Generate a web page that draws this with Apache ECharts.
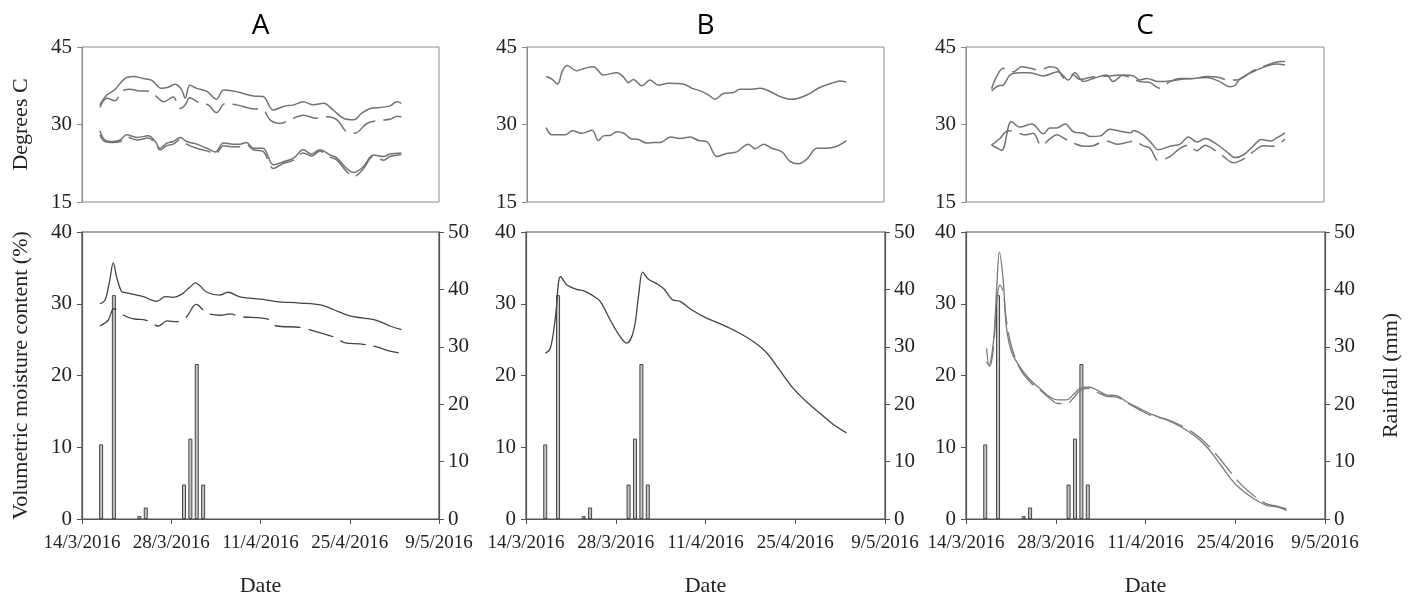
<!DOCTYPE html>
<html>
<head>
<meta charset="utf-8">
<script src="https://cdn.jsdelivr.net/npm/echarts@6/dist/echarts.min.js"></script>
<style>
  html, body { margin: 0; padding: 0; background: #fff; }
  #chart { width: 1418px; height: 601px; }
</style>
</head>
<body>
<div id="chart"></div>
<script>
// x values are days after 14/3/2016
const panelNames = ['A', 'B', 'C']
const dateTicks = ['14/3/2016', '28/3/2016', '11/4/2016', '25/4/2016', '9/5/2016']

// rainfall (mm), same for each site
const rainDay = [3, 5, 9, 10, 16, 17, 18, 19]
const rainMm = [13, 39, 0.5, 2, 6, 14, 27, 6]

// --- site A ---
const tempA_hiSolid = [[2.8,33.8],[3.9,35.7],[5.2,36.8],[6.7,38.9],[8.1,39.3],[9.6,38.9],[10.9,38.6],[12.5,37.0],[13.5,37.2],[14.6,37.8],[15.6,36.8],[16.2,35.1],[16.9,37.6],[18.0,37.0],[19.6,36.4],[21.1,34.9],[22.2,36.7],[23.7,36.5],[25.3,36.0],[26.9,35.5],[28.4,35.4],[30.0,32.8],[31.6,33.5],[33.2,33.8],[34.7,34.4],[36.3,33.8],[37.9,34.1],[39.4,32.8],[41.0,31.2],[42.6,30.9],[43.9,32.2],[45.2,33.1],[46.7,33.3],[48.3,33.6],[49.4,34.4],[50.1,34.1]]
const tempA_hiDash = [[2.8,33.3],[3.9,35.1],[5.2,34.6],[6.2,36.4],[7.5,36.8],[9.1,36.5],[10.7,36.4],[11.7,35.4],[12.8,34.4],[14.3,35.3],[15.4,33.1],[16.2,33.8],[16.9,35.2],[18.5,34.1],[19.8,33.8],[21.1,32.3],[22.4,34.0],[24.3,33.8],[26.4,33.1],[28.4,32.8],[29.5,30.9],[31.1,30.2],[32.6,30.9],[34.7,31.8],[36.8,31.2],[38.4,31.5],[40.0,30.9],[41.5,28.6],[42.8,28.3],[44.7,30.2],[46.7,30.8],[48.3,31.0],[49.4,31.6],[50.1,31.5]]
const tempA_loSolid = [[2.8,28.8],[3.6,27.0],[4.9,26.7],[6.0,27.0],[7.0,28.0],[8.6,27.5],[10.4,27.8],[11.5,26.7],[12.2,25.4],[13.3,26.4],[14.3,26.7],[15.4,27.5],[16.4,26.7],[18.0,26.2],[19.6,25.4],[20.9,24.7],[22.2,26.4],[23.7,26.2],[24.8,26.2],[25.8,26.5],[26.9,25.4],[28.4,25.4],[30.0,22.2],[31.6,22.8],[33.2,23.5],[34.7,25.1],[36.0,24.3],[37.3,25.1],[38.9,24.1],[40.0,23.5],[41.5,21.5],[42.6,20.7],[44.1,21.8],[45.7,24.1],[47.3,23.8],[48.3,24.3],[50.1,24.5]]
const tempA_loDash = [[2.8,28.0],[3.6,26.7],[4.9,26.5],[6.0,26.7],[7.0,27.6],[8.6,27.0],[10.4,27.4],[11.5,26.4],[12.2,25.1],[13.3,25.9],[14.3,26.2],[15.4,27.1],[16.4,26.2],[18.0,25.4],[19.6,24.9],[20.9,24.3],[22.2,25.9],[23.7,25.7],[24.8,25.7],[25.8,26.1],[26.9,25.1],[28.4,24.8],[30.0,21.5],[31.6,22.5],[33.2,23.1],[34.7,24.5],[36.0,23.9],[37.3,24.8],[38.9,23.7],[40.0,23.1],[41.5,20.9],[42.6,19.9],[44.1,21.4],[45.7,23.8],[47.3,23.1],[48.3,23.8],[50.1,24.2]]
const moistA_solid = [[2.8,30.0],[3.6,30.5],[4.3,33.0],[4.9,35.7],[5.5,33.5],[6.2,31.7],[6.6,31.6],[8.1,31.3],[9.6,31.0],[11.7,30.35],[13.1,31.0],[14.3,30.9],[15.6,31.3],[16.9,32.3],[17.8,32.9],[18.5,32.5],[19.6,31.6],[21.6,31.2],[22.9,31.6],[24.8,30.95],[28.4,30.6],[30.5,30.3],[34.2,30.1],[37.6,29.8],[39.4,29.2],[42.0,28.3],[44.1,28.0],[46.2,27.7],[48.3,26.9],[50.1,26.4]]
const moistA_dash = [[2.8,26.9],[4.1,27.7],[5.0,29.3],[6.5,28.4],[8.1,27.9],[10.1,27.7],[12.0,26.9],[13.3,27.6],[14.9,27.5],[16.4,28.2],[17.9,29.9],[19.6,28.7],[21.7,28.4],[23.2,28.6],[24.8,28.2],[29.0,27.9],[30.5,26.9],[34.2,26.7],[37.9,25.8],[39.4,25.4],[41.5,24.5],[43.6,24.4],[46.2,24.0],[48.3,23.4],[50.1,23.1]]

// --- site B ---
const tempB_hi = [[3.0,39.3],[3.9,38.8],[4.8,37.8],[5.5,40.2],[6.3,41.4],[7.8,40.4],[9.1,40.9],[10.4,41.2],[12.0,39.6],[14.1,40.0],[15.2,39.1],[15.9,38.1],[16.7,38.7],[17.2,38.3],[18.0,37.5],[19.3,38.6],[20.6,37.6],[22.2,38.0],[24.6,37.8],[25.9,37.0],[27.2,36.5],[28.5,35.7],[29.5,34.9],[30.8,36.0],[32.4,36.2],[33.4,36.8],[35.0,36.8],[36.6,37.0],[38.1,36.4],[39.7,35.4],[41.3,34.9],[42.3,35.0],[43.9,35.7],[46.0,37.2],[48.1,38.1],[49.1,38.4],[50.1,38.2]]
const tempB_lo = [[3.0,29.4],[3.9,28.0],[5.0,28.0],[6.0,28.0],[7.1,28.8],[8.6,28.3],[10.2,28.9],[11.2,26.9],[12.0,27.8],[13.1,27.9],[14.1,28.6],[15.2,28.3],[16.2,27.3],[17.5,27.1],[18.8,26.4],[19.9,26.5],[20.9,26.5],[22.5,27.6],[24.0,27.3],[25.6,27.6],[26.9,26.9],[28.2,26.7],[29.8,23.8],[31.3,24.4],[32.9,24.7],[34.7,26.2],[35.8,25.3],[37.1,26.2],[38.4,25.4],[40.0,24.7],[41.3,22.8],[42.6,22.4],[43.9,23.3],[45.5,25.4],[47.0,25.4],[48.6,25.8],[50.1,26.9]]
const moistB = [[3.0,23.1],[3.8,23.8],[4.6,28.2],[5.4,33.8],[6.4,32.6],[7.9,32.0],[9.0,31.8],[10.3,31.2],[11.6,30.3],[13.1,27.8],[14.4,25.8],[15.7,24.5],[16.8,26.3],[17.6,31.4],[18.2,34.4],[19.1,33.4],[20.4,32.8],[21.5,32.1],[22.8,30.6],[24.1,30.3],[25.6,29.3],[27.7,28.2],[30.3,27.2],[32.9,26.1],[35.5,24.7],[37.6,23.1],[39.6,20.7],[41.7,18.2],[43.8,16.3],[45.9,14.7],[47.9,13.2],[50.0,12.0]]

// --- site C ---
const tempC_hiSolid = [[4.0,36.5],[5.1,37.5],[5.8,37.6],[6.9,39.6],[8.4,40.0],[10.0,40.0],[12.1,39.4],[14.4,40.2],[16.0,38.6],[17.0,40.0],[18.4,38.3],[19.9,38.9],[22.0,39.6],[23.0,38.3],[24.6,39.6],[26.2,39.4],[27.2,38.6],[28.3,38.9],[30.1,38.3],[31.9,38.4],[33.5,38.7],[35.6,38.9],[37.6,39.1],[39.7,38.3],[41.3,37.3],[42.1,37.6],[42.9,38.9],[44.9,40.2],[47.0,41.3],[48.6,41.7],[49.9,41.5]]
const tempC_hiDash = [[4.0,36.9],[4.8,39.3],[5.8,40.9],[7.4,40.2],[8.7,41.2],[10.0,40.9],[11.6,40.5],[13.1,41.2],[14.2,40.9],[15.5,38.9],[16.8,39.6],[17.8,38.7],[19.4,39.1],[21.0,39.3],[22.5,39.4],[24.1,39.6],[25.7,39.1],[27.2,38.3],[28.8,38.1],[30.3,37.0],[31.9,38.3],[33.5,38.9],[35.6,38.9],[37.6,39.3],[39.7,39.1],[40.8,38.6],[42.3,38.6],[44.9,40.4],[47.6,41.7],[49.1,42.2],[49.9,42.2]]
const tempC_loSolid = [[4.0,26.0],[4.8,25.5],[5.6,25.0],[7.1,30.6],[8.4,29.5],[10.3,30.1],[12.1,28.2],[13.1,29.3],[14.2,29.3],[15.5,30.1],[16.8,28.6],[18.4,28.3],[19.4,27.7],[21.0,27.8],[22.5,29.1],[24.1,28.7],[25.7,28.4],[26.2,28.8],[27.7,28.0],[29.0,26.4],[30.1,25.1],[31.9,25.8],[33.5,26.2],[34.8,27.6],[36.1,26.6],[37.4,27.3],[39.2,26.2],[40.8,24.7],[42.1,23.6],[43.4,24.1],[44.9,25.8],[46.2,27.1],[47.6,26.8],[48.6,27.4],[49.9,28.4]]
const tempC_loDash = [[4.0,26.0],[5.3,27.3],[6.6,28.8],[7.7,28.6],[9.2,28.0],[10.5,28.3],[11.8,25.9],[13.1,27.2],[14.2,28.0],[15.5,27.2],[16.8,26.4],[18.4,25.8],[19.9,25.9],[21.0,26.5],[22.0,26.8],[23.6,26.2],[25.1,26.5],[26.2,26.8],[27.7,25.9],[28.8,25.4],[30.1,23.0],[31.9,23.8],[33.5,25.4],[34.8,26.0],[36.1,24.9],[37.4,26.0],[38.7,25.2],[40.2,23.9],[41.8,22.6],[43.4,23.3],[44.9,24.7],[46.5,25.9],[48.1,25.8],[49.9,27.2]]
const moistC_solid = [[3.2,23.8],[3.6,21.4],[4.3,24.9],[4.8,32.3],[5.2,37.2],[5.8,33.3],[6.3,26.8],[7.1,23.3],[8.4,21.2],[10.0,19.4],[11.5,18.2],[13.1,17.0],[14.4,16.6],[15.7,16.6],[16.7,17.3],[17.8,18.2],[19.1,18.4],[20.4,18.0],[21.9,17.3],[23.5,17.2],[25.1,16.3],[27.1,15.4],[29.2,14.5],[31.3,13.8],[33.4,12.9],[35.5,11.7],[37.5,10.1],[39.6,7.7],[41.2,5.7],[42.7,4.3],[44.8,2.9],[46.9,1.9],[48.5,1.7],[50.0,1.2]]
const moistC_dash = [[3.2,21.9],[3.7,21.3],[4.3,24.0],[4.8,30.5],[5.3,32.6],[5.8,31.6],[6.3,27.7],[7.1,24.0],[8.4,21.0],[10.0,19.1],[11.5,18.0],[13.1,16.8],[14.4,16.1],[15.7,16.1],[16.7,16.8],[17.8,17.9],[19.1,18.2],[20.4,17.7],[21.9,17.1],[23.5,17.0],[25.1,16.2],[27.1,15.2],[29.2,14.3],[31.3,13.9],[33.4,13.1],[35.5,12.0],[37.5,10.5],[39.6,8.4],[41.2,6.6],[42.7,5.0],[44.8,3.3],[46.9,2.1],[48.5,1.8],[50.0,1.4]]

const tempSeries = [
  [[tempA_hiSolid, false], [tempA_hiDash, true], [tempA_loSolid, false], [tempA_loDash, true]],
  [[tempB_hi, false], [tempB_lo, false]],
  [[tempC_hiSolid, false], [tempC_hiDash, true], [tempC_loSolid, false], [tempC_loDash, true]]
]
const moistSeries = [
  [[moistA_solid, false], [moistA_dash, true]],
  [[moistB, false]],
  [[moistC_solid, false], [moistC_dash, true]]
]

const serif = 'Liberation Serif'
const yTickFont = { fontFamily: serif, fontSize: 21, color: '#222' }
const xTickFont = { fontFamily: serif, fontSize: 19, color: '#222' }
const nameFont = { fontFamily: serif, fontSize: 22, color: '#222' }

const layout = [
  { top: [82, 357], bottom: [82, 357] },
  { top: [527, 357], bottom: [526, 359] },
  { top: [966, 358], bottom: [966, 359] }
]

const grid = []
const xAxis = []
const yAxis = []
const series = []
const graphic = []

panelNames.forEach((name, i) => {
  const lay = layout[i]
  grid.push({ left: lay.top[0], width: lay.top[1], top: 47, height: 155,
    show: true, borderColor: '#8a8a8a', borderWidth: 1 })
  grid.push({ left: lay.bottom[0], width: lay.bottom[1], top: 232, height: 287,
    show: true, borderColor: '#555', borderWidth: 1.2 })

  // top panel axes
  xAxis.push({ type: 'value', gridIndex: 2 * i, min: 0, max: 56, interval: 14,
    axisLine: { show: false }, axisTick: { show: false }, axisLabel: { show: false },
    splitLine: { show: false } })
  yAxis.push({ type: 'value', gridIndex: 2 * i, min: 15, max: 45, interval: 15,
    name: i === 0 ? 'Degrees C' : '', nameLocation: 'middle', nameRotate: 90, nameGap: 50,
    nameTextStyle: nameFont,
    axisLine: { show: true, lineStyle: { color: '#8a8a8a', width: 1 } },
    axisTick: { show: true, length: 5, lineStyle: { color: '#8a8a8a' } },
    axisLabel: Object.assign({ margin: 10 }, yTickFont),
    splitLine: { show: false } })

  // bottom panel axes
  xAxis.push({ type: 'value', gridIndex: 2 * i + 1, min: 0, max: 56, interval: 14,
    name: 'Date', nameLocation: 'middle', nameGap: 56, nameTextStyle: nameFont,
    axisLine: { show: true, lineStyle: { color: '#555', width: 1.2 } },
    axisTick: { show: true, length: 5, lineStyle: { color: '#555' } },
    axisLabel: Object.assign({ margin: 15, formatter: v => dateTicks[Math.round(v / 14)] }, xTickFont),
    splitLine: { show: false } })
  yAxis.push({ type: 'value', gridIndex: 2 * i + 1, min: 0, max: 40, interval: 10,
    name: i === 0 ? 'Volumetric moisture content (%)' : '', nameLocation: 'middle',
    nameRotate: 90, nameGap: 50, nameTextStyle: nameFont,
    axisLine: { show: true, lineStyle: { color: '#555', width: 1.2 } },
    axisTick: { show: true, length: 5, lineStyle: { color: '#555' } },
    axisLabel: Object.assign({ margin: 10 }, yTickFont),
    splitLine: { show: false } })
  yAxis.push({ type: 'value', gridIndex: 2 * i + 1, min: 0, max: 50, interval: 10,
    position: 'right',
    name: i === 2 ? 'Rainfall (mm)' : '', nameLocation: 'middle',
    nameRotate: 90, nameGap: 55, nameTextStyle: nameFont,
    axisLine: { show: true, lineStyle: { color: '#555', width: 1.2 } },
    axisTick: { show: true, length: 5, lineStyle: { color: '#555' } },
    axisLabel: Object.assign({ margin: 9 }, yTickFont),
    splitLine: { show: false } })

  const topX = lay.top[0] + lay.top[1] / 2
  graphic.push({ type: 'text', x: topX, y: 26,
    style: { text: name, font: '28px "Open Sans"', fill: '#000',
      textAlign: 'center', textVerticalAlign: 'middle' } })

  // rainfall bars
  series.push({ type: 'bar', xAxisIndex: 2 * i + 1, yAxisIndex: 3 * i + 2,
    data: rainDay.map((d, k) => [d, rainMm[k]]), barWidth: 4, z: 1,
    itemStyle: { color: '#c4c4c4', borderColor: '#444', borderWidth: 1 },
    silent: true })

  tempSeries[i].forEach(([data, dashed]) => {
    series.push({ type: 'line', xAxisIndex: 2 * i, yAxisIndex: 3 * i, data,
      smooth: 0.35, showSymbol: false, silent: true, z: 3,
      lineStyle: { color: '#737373', width: 1.5, type: dashed ? [26, 8] : 'solid' } })
  })
  moistSeries[i].forEach(([data, dashed]) => {
    series.push({ type: 'line', xAxisIndex: 2 * i + 1, yAxisIndex: 3 * i + 1, data,
      smooth: 0.35, showSymbol: false, silent: true, z: 3,
      lineStyle: { color: i === 2 ? '#7a7a7a' : '#444', width: 1.3,
        type: dashed ? [26, 8] : 'solid' } })
  })
})

const chart = echarts.init(document.getElementById('chart'), null, { renderer: 'canvas' })
chart.setOption({
  animation: false,
  backgroundColor: '#fff',
  grid, xAxis, yAxis, series, graphic
})
</script>
</body>
</html>
